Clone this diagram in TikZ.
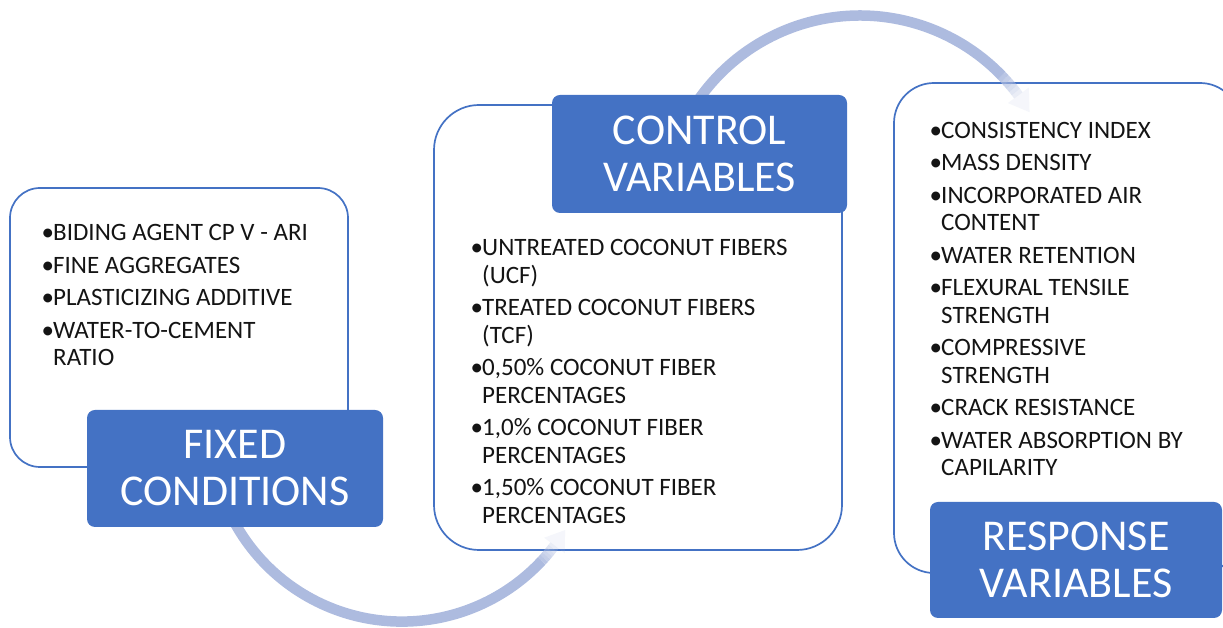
\documentclass[tikz,border=0pt]{standalone}
\usepackage{fontspec}
\setmainfont{Carlito}
\usetikzlibrary{calc}
\definecolor{boxblue}{HTML}{4472C4}
\definecolor{arcblue}{HTML}{ADBBDF}
\newcommand{\bul}{\llap{\makebox[11.5pt][l]{•}}}
\begin{document}
\begin{tikzpicture}[x=1pt,y=1pt,
  frame/.style={draw=boxblue, line width=1.7pt, fill=white, inner sep=0pt},
  tag/.style={fill=boxblue, rounded corners=8pt, text=white, align=center,
    font=\fontsize{44}{47}\selectfont, inner sep=0pt},
  itemlist/.style={anchor=base west, inner sep=0pt, text=black!92,
    font=\fontsize{25}{27.5}\selectfont},
  flow/.style={draw=arcblue, line width=10.5pt},
  flowhead/.style={fill=arcblue, fill opacity=0.12},
]
\useasboundingbox (0,0) rectangle (1223,628);
\clip (0,0) rectangle (1223,628);

% outlined panels
\node[frame, rounded corners=30pt, minimum width=338pt, minimum height=279pt] (fixedbox) at (179,300.5) {};
\node[frame, rounded corners=45pt, minimum width=408pt, minimum height=445pt] (controlbox) at (638,300.5) {};
\node[frame, rounded corners=40pt, minimum width=346pt, minimum height=490pt] (responsebox) at (1067,300) {};

% bullet lists
\node[itemlist] (fixedlist) at (53,387) {\begin{tabular}[t]{@{}l@{}}
\bul BIDING AGENT CP V - ARI\\[5pt]
\bul FINE AGGREGATES\\[5pt]
\bul PLASTICIZING ADDITIVE\\[5pt]
\bul WATER-TO-CEMENT\\
RATIO
\end{tabular}};

\node[itemlist] (controllist) at (482,372) {\begin{tabular}[t]{@{}l@{}}
\bul UNTREATED COCONUT FIBERS\\
(UCF)\\[5pt]
\bul TREATED COCONUT FIBERS\\
(TCF)\\[5pt]
\bul 0,50\% COCONUT FIBER\\
PERCENTAGES\\[5pt]
\bul 1,0\% COCONUT FIBER\\
PERCENTAGES\\[5pt]
\bul 1,50\% COCONUT FIBER\\
PERCENTAGES
\end{tabular}};

\node[itemlist] (responselist) at (941,489.5) {\begin{tabular}[t]{@{}l@{}}
\bul CONSISTENCY INDEX\\[5pt]
\bul MASS DENSITY\\[5pt]
\bul INCORPORATED AIR\\
CONTENT\\[5pt]
\bul WATER RETENTION\\[5pt]
\bul FLEXURAL TENSILE\\
STRENGTH\\[5pt]
\bul COMPRESSIVE\\
STRENGTH\\[5pt]
\bul CRACK RESISTANCE\\[5pt]
\bul WATER ABSORPTION BY\\
CAPILARITY
\end{tabular}};

% curved flow arrows, fading out towards their heads
\coordinate (arcA) at (402,197.4);
\coordinate (arcB) at (860,415.5);

\draw[flow] ($(arcA)+(208:191)$) arc[start angle=208, end angle=317, radius=191];
\foreach \a/\b/\o in {317/318/0.85, 318/319/0.72, 319/320/0.6, 320/321/0.48, 321/322/0.36, 322/323/0.25}
  \draw[flow, draw opacity=\o] ($(arcA)+(\a:191)$) arc[start angle=\a, end angle=\b, radius=191];
\fill[flowhead] ($(arcA)+(323:178)$) -- ($(arcA)+(328.6:191)$) -- ($(arcA)+(323:204)$) -- cycle;

\draw[flow] ($(arcB)+(145:197)$) arc[start angle=145, end angle=44, radius=197];
\foreach \a/\b/\o in {44/42.75/0.85, 42.75/41.5/0.72, 41.5/40.25/0.6, 40.25/39/0.48, 39/37.75/0.36, 37.75/36.5/0.25}
  \draw[flow, draw opacity=\o] ($(arcB)+(\a:197)$) arc[start angle=\a, end angle=\b, radius=197];
\fill[flowhead] ($(arcB)+(36.5:184)$) -- ($(arcB)+(30.6:197)$) -- ($(arcB)+(36.5:210)$) -- cycle;

% title tags
\node[tag, minimum width=296pt, minimum height=117pt] (fixedtag) at (235,159.5) {FIXED\\CONDITIONS};
\node[tag, minimum width=295pt, minimum height=118pt] (controltag) at (699.5,474) {CONTROL\\VARIABLES};
\node[tag, minimum width=292pt, minimum height=116pt] (responsetag) at (1076,68) {RESPONSE\\VARIABLES};
\end{tikzpicture}
\end{document}
